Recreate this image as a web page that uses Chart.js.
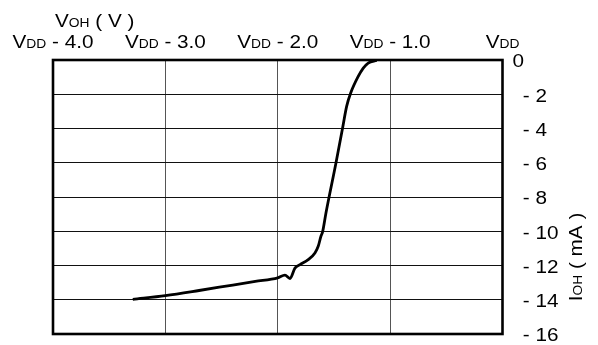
<!DOCTYPE html>
<html>
<head>
<meta charset="utf-8">
<script src="https://cdn.jsdelivr.net/npm/chart.js@4.4.1/dist/chart.umd.min.js"></script>
<style>
  html, body { margin: 0; padding: 0; background: #fff; }
  #wrap { position: relative; width: 598px; height: 345px; }
</style>
</head>
<body>
<div id="wrap"><canvas id="vohChart"></canvas></div>
<script>
// output voltage relative to VDD (V) and output current IOH (mA)
const vOut = [-3.29, -3.0, -2.7, -2.4, -2.2, -2.0, -1.936, -1.891, -1.847, -1.802, -1.729,
              -1.669, -1.640, -1.616, -1.600, -1.571, -1.482, -1.423,
              -1.387, -1.351, -1.284, -1.239, -1.195, -1.120];
const iOut = [-13.98, -13.76, -13.46, -13.14, -12.93, -12.72, -12.56, -12.76, -12.15, -11.95, -11.66,
              -11.27, -10.88, -10.30, -10.01, -8.93, -6.01, -3.97,
              -2.71, -1.93, -0.96, -0.47, -0.18, -0.02];

// axis ticks and their label texts
const xTicks = [-4, -3, -2, -1, 0];
const xTickText = [' - 4.0', ' - 3.0', ' - 2.0', ' - 1.0', ''];
const yTicks = [0, -2, -4, -6, -8, -10, -12, -14, -16];
const yTickText = ['0', '\u2002- 2', '\u2002- 4', '\u2002- 6', '\u2002- 8', '\u2002- 10', '\u2002- 12', '\u2002- 14', '\u2002- 16'];

const FONT = '"Liberation Sans", Arial, Helvetica, sans-serif';
const BIG = 18;
const SMALL = 12;
const STRETCH = 1.15;

// draws a row of text pieces with different sizes on one baseline
function drawRuns(ctx, runs, x, y, align) {
    let total = 0;
    const widths = runs.map(([t, s]) => {
        ctx.font = s + 'px ' + FONT;
        const w = ctx.measureText(t).width;
        total += w;
        return w;
    });
    let start = x;
    if (align === 'center') start = x - total * STRETCH / 2;
    if (align === 'right') start = x - total * STRETCH;
    ctx.save();
    ctx.translate(start, y);
    ctx.scale(STRETCH, 1);
    ctx.textAlign = 'left';
    ctx.textBaseline = 'alphabetic';
    let cx = 0;
    runs.forEach(([t, s], i) => {
        ctx.font = s + 'px ' + FONT;
        ctx.fillText(t, cx, 0);
        cx += widths[i];
    });
    ctx.restore();
}

const labelPlugin = {
    id: 'labelPlugin',
    afterDraw(chart) {
        const ctx = chart.ctx;
        const a = chart.chartArea;
        const xs = chart.scales.x;
        const ys = chart.scales.y;
        ctx.save();

        // plot frame
        ctx.strokeStyle = '#000';
        ctx.lineWidth = 2.6;
        ctx.strokeRect(a.left, a.top, a.right - a.left, a.bottom - a.top);

        ctx.fillStyle = '#000';
        const capH = BIG * 0.716;

        // top axis: VDD based tick labels
        xTicks.forEach((v, i) => {
            drawRuns(ctx, [['V', BIG], ['DD', SMALL], [xTickText[i], BIG]],
                xs.getPixelForValue(v), 48, 'center');
        });
        drawRuns(ctx, [['V', BIG], ['OH', SMALL], [' ( V )', BIG]], 55, 27, 'left');

        // right axis: current tick labels
        yTicks.forEach((v, i) => {
            drawRuns(ctx, [[yTickText[i], BIG]], a.right + 10,
                ys.getPixelForValue(v) + capH / 2 + 1, 'left');
        });

        // right axis title, rotated
        ctx.save();
        ctx.translate(576 + capH / 2, 257);
        ctx.rotate(-Math.PI / 2);
        drawRuns(ctx, [['I', BIG], ['OH', SMALL], [' ( mA )', BIG]], 0, 0, 'center');
        ctx.restore();

        ctx.restore();
    }
};

const points = vOut.map((v, i) => ({ x: v, y: iOut[i] }));

const config = {
    type: 'line',
    data: {
        datasets: [{
            label: 'IOH',
            data: points,
            borderColor: '#000',
            borderWidth: 2.8,
            pointRadius: 0,
            fill: false,
            cubicInterpolationMode: 'monotone'
        }]
    },
    options: {
        responsive: true,
        maintainAspectRatio: false,
        animation: false,
        layout: { padding: { left: 53, right: 0, top: 0, bottom: 11 } },
        plugins: {
            legend: { display: false },
            tooltip: { enabled: false }
        },
        scales: {
            x: {
                type: 'linear',
                position: 'top',
                min: -4,
                max: 0,
                ticks: { display: false, stepSize: 1 },
                grid: { color: '#555', lineWidth: 1, drawTicks: false },
                border: { display: false },
                afterFit(scale) { scale.height = 60; }
            },
            y: {
                type: 'linear',
                position: 'right',
                min: -16,
                max: 0,
                ticks: { display: false, stepSize: 2 },
                grid: { color: '#111', lineWidth: 1, drawTicks: false },
                border: { display: false },
                afterFit(scale) { scale.width = 95.5; }
            }
        }
    },
    plugins: [labelPlugin]
};

function initChart() {
    const canvas = document.getElementById('vohChart');
    new Chart(canvas.getContext('2d'), config);
}

if (document.readyState === 'loading') {
    document.addEventListener('DOMContentLoaded', initChart);
} else {
    initChart();
}
</script>
</body>
</html>
